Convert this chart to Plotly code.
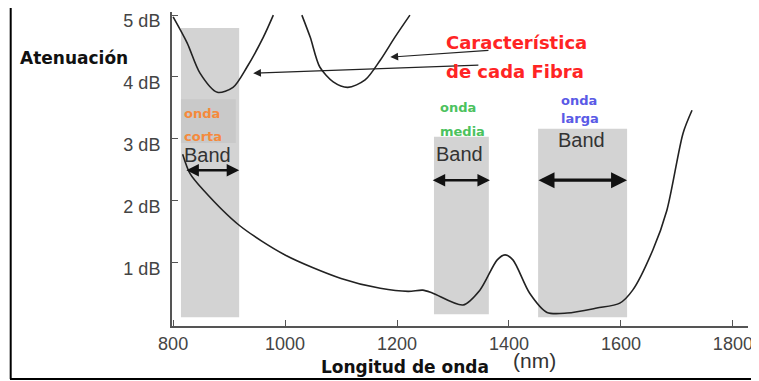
import plotly.graph_objects as go

# ---- data ----
wavelength_main = [817, 830, 854, 918, 1000, 1100, 1170, 1220, 1246, 1264, 1318, 1348, 1379, 1393,
                   1407, 1437, 1468, 1504, 1557, 1598, 1621, 1657, 1682, 1711, 1727]
atten_main = [2.75, 2.44, 2.17, 1.60, 1.12, 0.74, 0.58, 0.53, 0.55, 0.50, 0.31, 0.55, 1.04, 1.12,
              1.04, 0.50, 0.19, 0.18, 0.26, 0.34, 0.55, 1.20, 1.84, 3.09, 3.46]

fiber_a_x = [800, 825, 848, 879, 907, 932, 961, 979]
fiber_a_y = [4.97, 4.55, 4.06, 3.75, 3.83, 4.16, 4.64, 5.0]

fiber_b_x = [1030, 1045, 1062, 1086, 1112, 1143, 1170, 1196, 1223]
fiber_b_y = [5.0, 4.64, 4.16, 3.92, 3.83, 3.95, 4.27, 4.64, 5.0]

band_start = [814, 1266, 1452]
band_end = [918, 1364, 1611]
band_top = [4.79, 3.03, 3.16]
band_bottom = [0.11, 0.16, 0.11]
band_arrow_start = [821, 1261, 1450]
band_arrow_end = [918, 1366, 1611]
band_arrow_y = [2.49, 2.33, 2.33]
band_label_x = [861, 1311, 1529]
band_label_y = [2.73, 2.75, 2.98]

wave_names = [["onda", "corta"], ["onda", "media"], ["onda", "larga"]]
wave_colors = ["#F58A3C", "#4CC25E", "#5A5AE6"]
wave_x = [816, 1273, 1489]
wave_y = [[3.40, 3.03], [3.50, 3.11], [3.62, 3.32]]

x_ticks = [800, 1000, 1200, 1400, 1600, 1800]
y_ticks = [1, 2, 3, 4, 5]
y_ticktext = ["1 dB", "2 dB", "3 dB", "4 dB", "5 dB"]

# page body has an 8px margin: figure sized to fit the window exactly
OFF = 8
W, H = 759 - OFF, 381 - OFF
L, T = 172 - OFF, 12 - OFF
PW, PH = 576, 314
R, B = W - L - PW, H - T - PH


def px(xs):
    """screen pixel x -> paper"""
    return (xs - OFF - L) / PW


def py(ys):
    """screen pixel y -> paper"""
    return (T + PH - (ys - OFF)) / PH


fig = go.Figure()
line_style = dict(color="#222222", width=1.6, shape="spline", smoothing=0.8)
fig.add_trace(go.Scatter(x=wavelength_main, y=atten_main, mode="lines", line=line_style,
                         hoverinfo="skip", showlegend=False))
fig.add_trace(go.Scatter(x=fiber_a_x, y=fiber_a_y, mode="lines", line=line_style,
                         hoverinfo="skip", showlegend=False))
fig.add_trace(go.Scatter(x=fiber_b_x, y=fiber_b_y, mode="lines", line=line_style,
                         hoverinfo="skip", showlegend=False))

shapes = []
for s, e, t, b in zip(band_start, band_end, band_top, band_bottom):
    shapes.append(dict(type="rect", xref="x", yref="y", x0=s, x1=e, y0=b, y1=t,
                       fillcolor="#D3D3D3", line=dict(width=0), layer="below"))
# darker inner patch in the first band
shapes.append(dict(type="rect", xref="x", yref="y", x0=band_start[0], x1=912, y0=2.93, y1=3.64,
                   fillcolor="#C9C9C9", line=dict(width=0), layer="below"))
# frame (left, top, bottom)
shapes.append(dict(type="line", xref="paper", yref="paper", x0=px(10.7), x1=px(10.7),
                   y0=py(6), y1=py(379), line=dict(color="black", width=2)))
shapes.append(dict(type="line", xref="paper", yref="paper", x0=px(10), x1=px(770),
                   y0=py(6), y1=py(6), line=dict(color="black", width=2)))
shapes.append(dict(type="line", xref="paper", yref="paper", x0=px(10), x1=px(770),
                   y0=py(379), y1=py(379), line=dict(color="black", width=2)))

ann = []
for xs, xe, y, w in zip(band_arrow_start, band_arrow_end, band_arrow_y, [2.5, 2.5, 3.2]):
    ann.append(dict(x=xe, y=y, ax=xs, ay=y, xref="x", yref="y", axref="x", ayref="y",
                    text="", showarrow=True, arrowhead=2, arrowside="end+start",
                    arrowsize=1, arrowwidth=w, arrowcolor="#111111"))
for x, y in zip(band_label_x, band_label_y):
    ann.append(dict(x=x, y=y, xref="x", yref="y", text="Band", showarrow=False,
                    xanchor="center", yanchor="middle",
                    font=dict(family="Liberation Sans, Arial", size=20, color="#333333")))
for names, col, x, ys in zip(wave_names, wave_colors, wave_x, wave_y):
    for n, y in zip(names, ys):
        ann.append(dict(x=x, y=y, xref="x", yref="y", text="<b>" + n + "</b>", showarrow=False,
                        xanchor="left", yanchor="middle",
                        font=dict(family="DejaVu Sans", size=13, color=col)))

# pointers to the fiber curves
ann.append(dict(x=1188, y=4.32, ax=1366, ay=4.43, xref="x", yref="y", axref="x", ayref="y",
                text="", showarrow=True, arrowhead=2, arrowsize=1.3, arrowwidth=1.2,
                arrowcolor="#222222"))
ann.append(dict(x=943, y=4.06, ax=1348, ay=4.19, xref="x", yref="y", axref="x", ayref="y",
                text="", showarrow=True, arrowhead=2, arrowsize=1.3, arrowwidth=1.2,
                arrowcolor="#222222"))

red_font = dict(family="DejaVu Sans", size=18, color="#FF2424")
ann.append(dict(x=px(444), y=py(43), xref="paper", yref="paper", text="<b>Característica</b>",
                showarrow=False, xanchor="left", yanchor="middle", font=red_font))
ann.append(dict(x=px(444), y=py(72), xref="paper", yref="paper", text="<b>de cada Fibra</b>",
                showarrow=False, xanchor="left", yanchor="middle", font=red_font))

ann.append(dict(x=px(18), y=py(58), xref="paper", yref="paper", text="<b>Atenuación</b>",
                showarrow=False, xanchor="left", yanchor="middle",
                font=dict(family="DejaVu Sans", size=17, color="#111111")))
ann.append(dict(x=px(405), y=py(367), xref="paper", yref="paper", text="<b>Longitud de onda</b>",
                showarrow=False, xanchor="center", yanchor="middle",
                font=dict(family="DejaVu Sans", size=17, color="#111111")))
ann.append(dict(x=px(534), y=py(360), xref="paper", yref="paper", text="(nm)",
                showarrow=False, xanchor="center", yanchor="middle",
                font=dict(family="Liberation Sans, Arial", size=21, color="#333333")))

fig.update_layout(
    width=W, height=H,
    margin=dict(l=L, r=R, t=T, b=B),
    paper_bgcolor="white", plot_bgcolor="white",
    shapes=shapes, annotations=ann,
    font=dict(family="Liberation Sans, Arial", size=18, color="#444444"),
)
fig.update_xaxes(range=[798, 1827], tickvals=x_ticks, ticks="inside", ticklen=6,
                 tickcolor="#555555", showline=True, linecolor="#555555", linewidth=2,
                 showgrid=False, zeroline=False, tickfont=dict(size=18, color="#444444"))
fig.update_yaxes(range=[-0.03, 5.05], tickvals=y_ticks, ticktext=y_ticktext, ticks="inside",
                 ticklen=6, tickcolor="#555555", showline=True, linecolor="#555555", linewidth=2,
                 showgrid=False, zeroline=False, ticklabelstandoff=6, ticklabelshift=6,
                 ticklabeloverflow="allow", tickfont=dict(size=18, color="#444444"))

fig.write_html("out.html")
